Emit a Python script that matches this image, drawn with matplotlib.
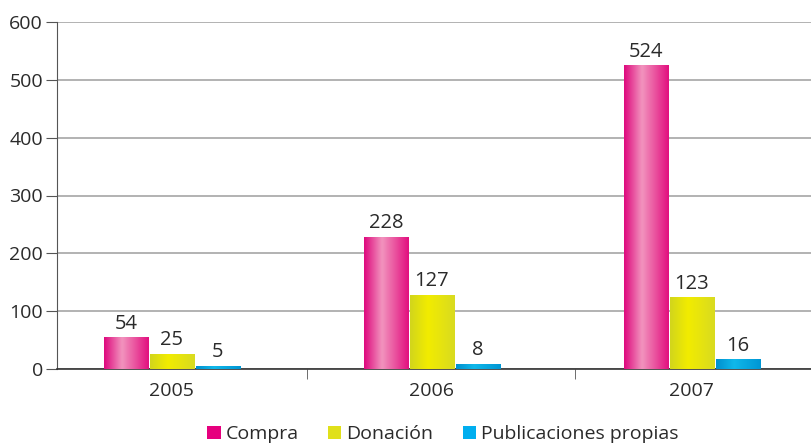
import numpy as np
import matplotlib
matplotlib.use("Agg")
import matplotlib.pyplot as plt
from matplotlib.colors import LinearSegmentedColormap
from matplotlib.patches import Patch

years = ["2005", "2006", "2007"]
series = ["Compra", "Donación", "Publicaciones propias"]
compra = [54, 228, 524]
donacion = [25, 127, 123]
propias = [5, 8, 16]

# (edge, light, edge) colours for the cylinder-like shading
shades = [
    ("#DE0A7E", "#F294BE", "#E2107F"),
    ("#D2D51C", "#F2EC00", "#D9DB20"),
    ("#0090CF", "#10B8EA", "#0096D4"),
]
solid = ["#E6007E", "#E0E01A", "#00AEEF"]

plt.rcParams["font.family"] = ["Open Sans", "DejaVu Sans"]

fig = plt.figure(figsize=(8.11, 4.43), dpi=100)
ax = fig.add_axes([57 / 811, 1 - 369 / 443, 1 - 57 / 811, (369 - 22) / 443])

x = np.arange(len(years))
width = 0.17
step = 0.177
grad = np.linspace(0, 1, 64).reshape(1, -1)

for i, vals in enumerate([compra, donacion, propias]):
    edge, light, edge2 = shades[i]
    cmap = LinearSegmentedColormap.from_list(
        f"c{i}", [(0, edge), (0.4, light), (1, edge2)])
    for j, v in enumerate(vals):
        cx = x[j] + (i - 1) * step
        ax.imshow(grad, cmap=cmap, aspect="auto", interpolation="bicubic",
                  extent=(cx - width / 2, cx + width / 2, 0, v), zorder=3)
        ax.annotate(str(v), (cx, v), xytext=(0, 3), textcoords="offset points",
                    ha="center", va="bottom", fontsize=14.5, color="#2a2a2a")

ax.set_xlim(-0.442, 2.458)
ax.set_ylim(0, 600)
ax.set_yticks(range(0, 601, 100))
ax.set_xticks(x)
ax.set_xticklabels(years)
ax.set_xticks([0.52, 1.55], minor=True)
ax.tick_params(axis="x", which="major", length=0, labelsize=14, pad=9,
               labelcolor="#2a2a2a")
ax.tick_params(axis="x", which="minor", length=7, direction="out",
               color="#555555")
ax.tick_params(axis="y", length=8, direction="out", labelsize=14, pad=2,
               color="#555555", labelcolor="#2a2a2a")
ax.grid(axis="y", color="#a5a5a5", linewidth=1.2, zorder=0)
ax.set_axisbelow(True)
for s in ["top", "right"]:
    ax.spines[s].set_visible(False)
ax.spines["left"].set_color("#555555")
ax.spines["bottom"].set_color("#333333")
ax.spines["bottom"].set_linewidth(1.2)

handles = [Patch(facecolor=c, edgecolor="none") for c in solid]
fig.legend(handles, series, loc="lower center", ncol=3, frameon=False,
           bbox_to_anchor=(0.546, -0.04), fontsize=14, handlelength=0.7,
           handleheight=0.7, handletextpad=0.25, columnspacing=1.5,
           labelcolor="#2a2a2a")

fig.savefig("out.png", dpi=100)
